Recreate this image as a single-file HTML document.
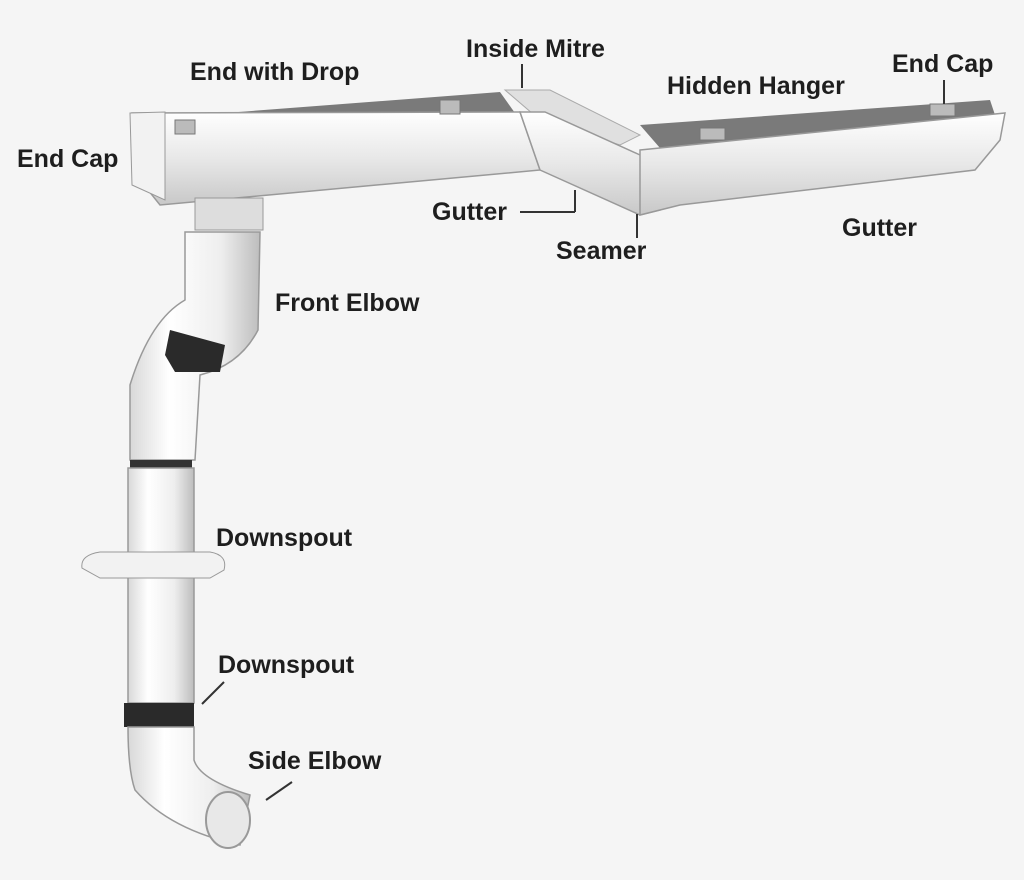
<!DOCTYPE html>
<html><head><meta charset="utf-8"><style>
html,body{margin:0;padding:0;background:#f5f5f5;}
svg{display:block}
text{font-family:"Liberation Sans",sans-serif;font-weight:bold;font-size:25px;fill:#1e1e1e}
</style></head><body>
<svg width="1024" height="880" viewBox="0 0 1024 880" xmlns="http://www.w3.org/2000/svg">
<defs>
<linearGradient id="g1" x1="0" y1="0" x2="0" y2="1"><stop offset="0" stop-color="#ffffff"/><stop offset="0.5" stop-color="#e8e8e8"/><stop offset="1" stop-color="#c8c8c8"/></linearGradient>
<linearGradient id="p1" x1="0" y1="0" x2="1" y2="0"><stop offset="0" stop-color="#d8d8d8"/><stop offset="0.3" stop-color="#ffffff"/><stop offset="0.7" stop-color="#eeeeee"/><stop offset="1" stop-color="#bdbdbd"/></linearGradient>
</defs>
<rect width="1024" height="880" fill="#f5f5f5"/>
<polygon points="160,118 500,92 520,120 180,150" fill="#7a7a7a"/>
<polygon points="132,113 520,112 540,170 160,205 140,180" fill="url(#g1)" stroke="#999" stroke-width="1.5"/>
<polygon points="130,113 165,112 165,200 132,185" fill="#f2f2f2" stroke="#999"/>
<polygon points="505,90 550,90 640,135 620,145 540,120" fill="#e0e0e0" stroke="#aaa"/>
<polygon points="520,112 545,112 640,155 660,210 640,215 540,170" fill="url(#g1)" stroke="#999" stroke-width="1.5"/>
<polygon points="640,125 990,100 995,115 660,148" fill="#7a7a7a"/>
<polygon points="640,150 1005,113 1000,140 975,170 680,205 640,215" fill="url(#g1)" stroke="#999" stroke-width="1.5"/>
<g fill="#bbb" stroke="#777"><rect x="175" y="120" width="20" height="14"/><rect x="440" y="100" width="20" height="14"/><rect x="700" y="128" width="25" height="12"/><rect x="930" y="104" width="25" height="12"/></g>
<rect x="195" y="198" width="68" height="32" fill="#ddd" stroke="#999"/>
<path d="M185,232 L260,232 L258,330 Q240,365 200,375 L195,460 L130,460 L130,385 Q150,320 185,300 Z" fill="url(#p1)" stroke="#999" stroke-width="1.5"/>
<path d="M170,330 L225,345 L220,372 L175,372 L165,355 Z" fill="#2a2a2a"/>
<rect x="130" y="460" width="62" height="8" fill="#333"/>
<rect x="128" y="468" width="66" height="235" fill="url(#p1)" stroke="#999" stroke-width="1.5"/>
<path d="M82,568 Q80,555 100,552 L210,552 Q228,555 224,570 L210,578 L100,578 Z" fill="#f2f2f2" stroke="#999"/>
<rect x="124" y="703" width="70" height="24" fill="#2a2a2a"/>
<path d="M128,727 L194,727 L194,760 Q200,780 250,795 L240,845 Q170,830 135,790 Q128,770 128,727 Z" fill="url(#p1)" stroke="#999" stroke-width="1.5"/>
<ellipse cx="228" cy="820" rx="22" ry="28" fill="#e8e8e8" stroke="#999" stroke-width="2"/>
<g stroke="#333" stroke-width="2" fill="none">
<line x1="522" y1="64" x2="522" y2="88"/>
<line x1="520" y1="212" x2="575" y2="212"/><line x1="575" y1="212" x2="575" y2="190"/>
<line x1="637" y1="238" x2="637" y2="214"/>
<line x1="944" y1="80" x2="944" y2="104"/>
<line x1="224" y1="682" x2="202" y2="704"/>
<line x1="292" y1="782" x2="266" y2="800"/>
</g>
<text x="190" y="80">End with Drop</text>
<text x="466" y="57">Inside Mitre</text>
<text x="892" y="72">End Cap</text>
<text x="667" y="94">Hidden Hanger</text>
<text x="17" y="167">End Cap</text>
<text x="432" y="220">Gutter</text>
<text x="556" y="259">Seamer</text>
<text x="842" y="236">Gutter</text>
<text x="275" y="311">Front Elbow</text>
<text x="216" y="546">Downspout</text>
<text x="218" y="673">Downspout</text>
<text x="248" y="769">Side Elbow</text>
</svg>
</body></html>
